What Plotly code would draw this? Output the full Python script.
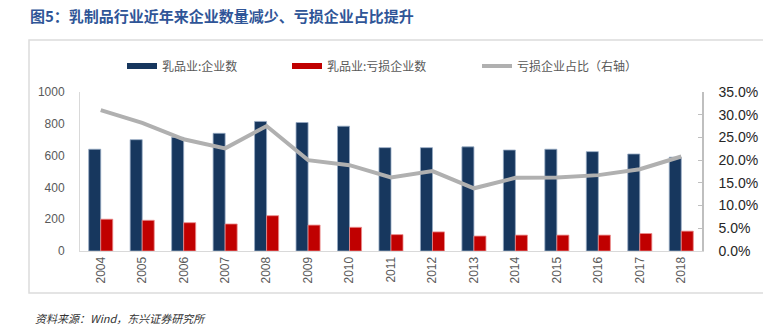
import plotly.graph_objects as go

years = ["2004", "2005", "2006", "2007", "2008", "2009", "2010", "2011",
         "2012", "2013", "2014", "2015", "2016", "2017", "2018"]
firms = [640, 700, 715, 740, 815, 808, 785, 650, 650, 655, 635, 640, 625, 610, 590]
loss_firms = [200, 193, 178, 170, 222, 163, 149, 103, 120, 94, 100, 100, 100, 110, 125]
loss_ratio = [0.310, 0.282, 0.246, 0.226, 0.275, 0.200, 0.189, 0.162, 0.176,
              0.138, 0.161, 0.162, 0.167, 0.180, 0.208]

name_firms = "乳品业:企业数"
name_loss = "乳品业:亏损企业数"
name_ratio = "亏损企业占比（右轴）"
title_text = "图5：乳制品行业近年来企业数量减少、亏损企业占比提升"
source_text = "资料来源：Wind，东兴证券研究所"

BLUE = "#17375e"
RED = "#c00000"
GREY = "#b0b0b0"

W, H = 763, 327
L, R, T, B = 80, 61, 92, 76
PW, PH = W - L - R, H - T - B


def px(x):
    return (x - L) / PW


def py(y):
    return (H - B - y) / PH


fig = go.Figure()
fig.add_trace(go.Bar(x=years, y=firms, name=name_firms, marker_color=BLUE,
                     marker_line=dict(color="rgba(150,170,195,0.8)", width=1),
                     showlegend=False))
fig.add_trace(go.Bar(x=years, y=loss_firms, name=name_loss, marker_color=RED,
                     marker_line=dict(color="rgba(235,140,140,0.8)", width=1),
                     showlegend=False))
fig.add_trace(go.Scatter(x=years, y=loss_ratio, name=name_ratio, yaxis="y2",
                         mode="lines", line=dict(color=GREY, width=4),
                         showlegend=False))

# legend entries
fig.add_trace(go.Scatter(x=[None], y=[None], mode="lines", name=name_firms,
                         line=dict(color=BLUE, width=6), legend="legend"))
fig.add_trace(go.Scatter(x=[None], y=[None], mode="lines", name=name_loss,
                         line=dict(color=RED, width=6), legend="legend2"))
fig.add_trace(go.Scatter(x=[None], y=[None], mode="lines", name=name_ratio,
                         line=dict(color=GREY, width=4), legend="legend3", yaxis="y2"))

leg_font = dict(family="Noto Sans CJK SC", size=12, color="#595959")
leg_common = dict(orientation="h", xanchor="left", yanchor="middle",
                  font=leg_font, itemwidth=30, bgcolor="rgba(0,0,0,0)")

fig.update_layout(
    width=W, height=H,
    margin=dict(l=L, r=R, t=T, b=B, autoexpand=False),
    paper_bgcolor="white", plot_bgcolor="white",
    barmode="group", bargap=0.42, bargroupgap=0,
    title=dict(text=title_text, x=30 / W, xanchor="left", y=1 - 17 / H,
               yanchor="middle", xref="paper" if False else "container",
               font=dict(family="Noto Sans CJK SC", size=15, color="#2f5597",
                         weight="bold")),
    xaxis=dict(type="category", tickangle=-90, showgrid=False,
               showline=True, linecolor="#d9d9d9", linewidth=1,
               ticks="", tickfont=dict(family="Liberation Sans", size=12, color="#595959")),
    yaxis=dict(range=[0, 1000], dtick=200, showgrid=False, zeroline=False,
               showline=True, linecolor="#d9d9d9", linewidth=1, ticks="",
               ticklabelstandoff=12,
               tickfont=dict(family="Liberation Sans", size=12, color="#595959")),
    yaxis2=dict(range=[0, 0.35], dtick=0.05, tickformat=".1%", overlaying="y",
                side="right", showgrid=False, zeroline=False, showline=True,
                linecolor="#bfbfbf", linewidth=1.5, ticks="inside", ticklen=4,
                tickcolor="#bfbfbf", ticklabelstandoff=12,
                tickfont=dict(family="Liberation Sans", size=14, color="#262626")),
    legend=dict(x=px(122), y=py(66), **leg_common),
    legend2=dict(x=px(287), y=py(66), **leg_common),
    legend3=dict(x=px(477), y=py(66), **leg_common),
    shapes=[dict(type="rect", xref="paper", yref="paper",
                 x0=px(29), x1=px(775), y0=py(293), y1=py(40),
                 line=dict(color="#dcdcdc", width=1.5), layer="below")],
    annotations=[dict(text=source_text, xref="paper", yref="paper",
                      x=px(33), y=py(318), xanchor="left", yanchor="middle",
                      showarrow=False,
                      font=dict(family="Noto Sans CJK SC", size=11, color="#333333",
                                style="italic"))],
)

fig.write_html("out.html")
